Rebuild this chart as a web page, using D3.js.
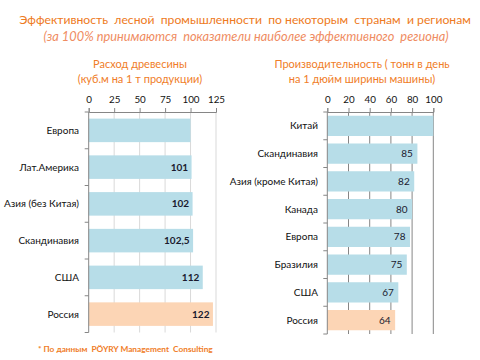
<!DOCTYPE html>
<html><head><meta charset="utf-8">
<script src="https://cdn.jsdelivr.net/npm/d3@7"></script>
<style>body{margin:0;background:#fff}svg{display:block;font-family:Lato,"Open Sans",sans-serif}text{white-space:pre}</style>
</head><body><svg id="c" width="480" height="360"></svg>
<script>
const leftCats = ["Европа","Лат.Америка","Азия (без Китая)","Скандинавия","США","Россия"];
const leftVals = [100,101,102,102.5,112,122];
const leftLabels = ["","101","102","102,5","112","122"];
const leftTicks = [0,25,50,75,100,125];
const rightCats = ["Китай","Скандинавия","Азия (кроме Китая)","Канада","Европа","Бразилия","США","Россия"];
const rightVals = [100,85,82,80,78,75,67,64];
const rightLabels = ["","85","82","80","78","75","67","64"];
const rightTicks = [0,20,40,60,80,100];

const svg = d3.select("#c");
const orange = "#F07D28";
const blue = "#B7DDE8", peach = "#FCD5B5";

svg.append("text").attr("x",245).attr("y",24).attr("text-anchor","middle")
  .attr("fill","#EE7A22").attr("font-size",12.2)
  .text("Эффективность  лесной  промышленности  по некоторым  странам  и регионам");
svg.append("text").attr("x",246).attr("y",41).attr("text-anchor","middle")
  .attr("fill","#EF8C62").attr("font-size",12.8).attr("font-style","italic")
  .text("(за 100% принимаются  показатели наиболее эффективного  региона)");

function panel(o){
  const g = svg.append("g");
  const x = d3.scaleLinear().domain(o.domain).range([o.x0,o.x1]);
  const y = d3.scaleBand().domain(o.cats).range([o.y0,o.y1]).paddingInner(o.pi).paddingOuter(o.pi/2);
  o.title.forEach((t,i)=>g.append("text").attr("x",o.tx).attr("y",68+i*15).attr("text-anchor","middle")
    .attr("fill",orange).attr("font-size",11).text(t));
  g.selectAll(".grid").data(o.ticks.slice(1)).join("line")
    .attr("x1",d=>x(d)).attr("x2",d=>x(d)).attr("y1",o.y0).attr("y2",o.y1)
    .attr("stroke",o.grid).attr("stroke-width",1);
  g.selectAll(".bar").data(o.vals).join("rect")
    .attr("x",x(0)).attr("y",(d,i)=>y(o.cats[i])).attr("height",y.bandwidth())
    .attr("width",d=>x(d)-x(0)).attr("fill",(d,i)=>i===o.cats.length-1?peach:blue);
  g.selectAll(".vl").data(o.vals).join("text")
    .attr("x",d=>x(d)-o.lpad).attr("y",(d,i)=>y(o.cats[i])+y.bandwidth()/2)
    .attr("dy","0.35em").attr("text-anchor","end").attr("font-size",o.vfs)
    .attr("font-weight",o.vfw).attr("fill","#1a1a2e").text((d,i)=>o.labels[i]);
  const ax = g.append("g").attr("transform",`translate(0,${o.y0})`)
    .call(d3.axisTop(x).tickValues(o.ticks).tickSize(4).tickPadding(5));
  ax.select(".domain").attr("stroke","#868686");
  ax.selectAll(".tick line").attr("stroke","#868686");
  ax.selectAll("text").attr("font-size",9.8).attr("fill","#111").attr("font-family","Lato,sans-serif");
  g.append("line").attr("x1",x(0)).attr("x2",x(0)).attr("y1",o.y0).attr("y2",o.y1).attr("stroke","#868686");
  const bounds = d3.range(o.cats.length+1).map(i=>o.y0+i*(o.y1-o.y0)/o.cats.length);
  g.selectAll(".ct").data(bounds).join("line")
    .attr("x1",x(0)-4).attr("x2",x(0)).attr("y1",d=>d).attr("y2",d=>d).attr("stroke","#868686");
  g.selectAll(".cl").data(o.cats).join("text")
    .attr("x",o.lx).attr("y",d=>y(d)+y.bandwidth()/2).attr("dy","0.35em")
    .attr("text-anchor","end").attr("font-size",10).attr("fill","#111").text(d=>d);
}
panel({domain:[0,125],x0:88.7,x1:216,y0:112,y1:332.5,cats:leftCats,vals:leftVals,labels:leftLabels,
  ticks:leftTicks,pi:0.36,grid:"#d9d9d9",lpad:3.5,vfs:10,vfw:"bold",lx:79,tx:140,
  title:["Расход древесины","(куб.м на 1 т продукции)"]});
panel({domain:[0,100],x0:327.3,x1:433.3,y0:112,y1:334,cats:rightCats,vals:rightVals,labels:rightLabels,
  ticks:rightTicks,pi:0.27,grid:"#868686",lpad:4.5,vfs:10,vfw:"normal",lx:318,tx:362,
  title:["Производительность ( тонн в день","на 1 дюйм ширины машины)"]});

svg.append("text").attr("x",38).attr("y",352).attr("fill",orange).attr("font-size",8.3)
  .attr("font-weight","bold").text("* По данным  PÖYRY Management  Consulting");
</script></body></html>
